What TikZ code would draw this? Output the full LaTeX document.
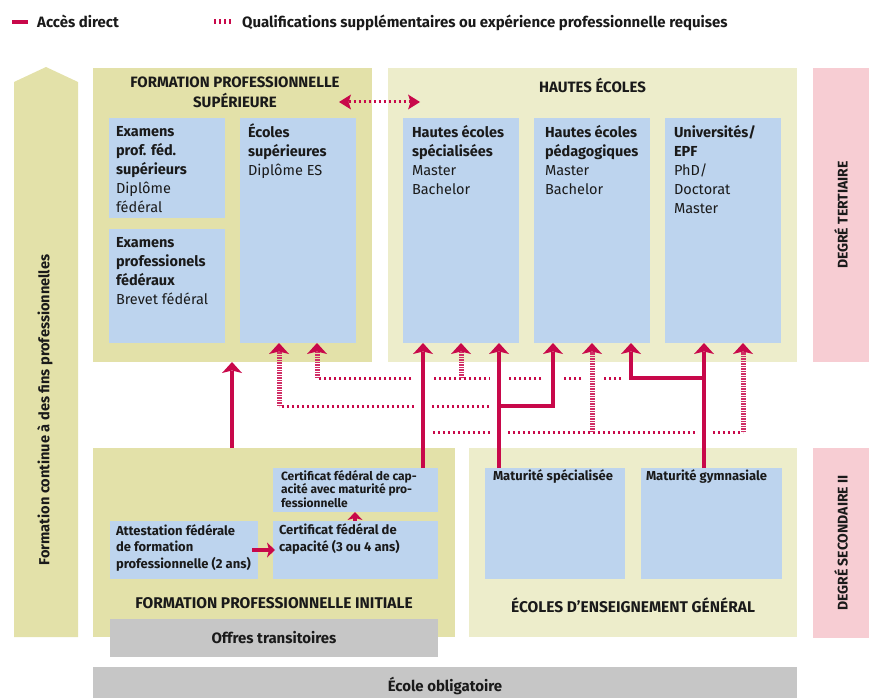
\documentclass[tikz,border=0pt]{standalone}
\usepackage{fontspec}
\setmainfont{Fira Sans}
\usetikzlibrary{arrows.meta}
\definecolor{rouge}{HTML}{C8084A}
\definecolor{khakiA}{HTML}{E3E1A9}
\definecolor{khakiB}{HTML}{EDEDCB}
\definecolor{bleu}{HTML}{BDD4EE}
\definecolor{rose}{HTML}{F7CDD3}
\definecolor{gris}{HTML}{C6C6C6}
\definecolor{texte}{HTML}{1A1A1A}
\newcommand\myTop{\rule{0pt}{15pt}}
\begin{document}
\begin{tikzpicture}[x=1pt,y=-1pt,
  zone/.style={fill=#1, draw=none, rectangle, inner sep=0pt, outer sep=0pt, anchor=north west},
  body/.style={inner sep=0pt, outer sep=0pt, anchor=north west, align=left, text=texte},
  ttl/.style={inner sep=0pt, outer sep=0pt, text=texte, align=center, font=\bfseries\fontsize{15}{20}\selectfont},
  boxfont/.style={font=\fontsize{14.5}{19}\selectfont},
  bigtip/.style={-{Stealth[length=11pt,width=20pt,inset=2.5pt,line width=0pt,color=rouge]}},
  acc/.style={draw=rouge, line width=4.5pt, bigtip},
  accsmall/.style={draw=rouge, line width=4pt, -{Stealth[length=8pt,width=15pt,inset=2pt,line width=0pt]}},
  qual/.style={draw=rouge, line width=3pt, dash pattern=on 2pt off 3pt},
  qualv/.style={draw=rouge!85, line width=5pt, dash pattern=on 1.2pt off 1.3pt, bigtip},
  halo/.style={draw=white, line width=18pt},
]
\useasboundingbox (0,0) rectangle (869,698);

% ---------- legend ----------
\draw[rouge, line width=4.5pt] (12,22) -- (28,22);
\node[anchor=base west, inner sep=0pt, text=texte, font=\bfseries\fontsize{15}{18}\selectfont] (legA) at (37,28) {Accès direct};
\draw[qual, line width=5pt] (214,22) -- (233,22);
\node[anchor=base west, inner sep=0pt, text=texte, font=\bfseries\fontsize{15}{18}\selectfont] (legB) at (242,28) {Qualifications supplémentaires ou expérience professionnelle requises};

% ---------- left column ----------
\fill[khakiA] (14,637) -- (14,82) -- (46,67) -- (78,82) -- (78,637) -- cycle;
\node[rotate=90, inner sep=0pt, text=texte, font=\bfseries\fontsize{14.6}{17}\selectfont] (cont) at (45,410) {Formation continue à des fins professionnelles};

% ---------- big zones ----------
\node[zone=khakiA, minimum width=279, minimum height=294] (fps) at (93,68) {};
\node[zone=khakiB, minimum width=409, minimum height=294] (he) at (388,68) {};
\node[zone=khakiA, minimum width=362, minimum height=189] (fpi) at (93,448) {};
\node[zone=khakiB, minimum width=328, minimum height=189] (eeg) at (469,448) {};
\node[zone=rose, minimum width=56, minimum height=294] (tert) at (813,68) {};
\node[zone=rose, minimum width=56, minimum height=190] (sec) at (813,448) {};

\node[rotate=90, inner sep=0pt, text=texte, font=\bfseries\fontsize{14}{17}\selectfont] (tertT) at (tert.center) {DEGRÉ TERTIAIRE};
\node[rotate=90, inner sep=0pt, text=texte, font=\bfseries\fontsize{14}{17}\selectfont] (secT) at (sec.center) {DEGRÉ SECONDAIRE II};

% ---------- titles ----------
\node[ttl, anchor=north] (fpsT) at (235,72) {\myTop FORMATION PROFESSIONNELLE\\SUPÉRIEURE};
\node[ttl, anchor=base] (heT) at (592.5,93) {HAUTES ÉCOLES};
\node[ttl, anchor=base, font=\bfseries\fontsize{15.5}{20}\selectfont] (fpiT) at (274,608) {FORMATION PROFESSIONNELLE INITIALE};
\node[ttl, anchor=base, font=\bfseries\fontsize{15.5}{20}\selectfont] (eegT) at (633,612) {ÉCOLES D’ENSEIGNEMENT GÉNÉRAL};

% ---------- blue boxes (top) ----------
\node[zone=bleu, minimum width=116, minimum height=100] (efs) at (109,118) {};
\node[zone=bleu, minimum width=116, minimum height=114] (epf) at (109,229) {};
\node[zone=bleu, minimum width=116, minimum height=225] (es) at (240,118) {};
\node[zone=bleu, minimum width=116, minimum height=225] (hes) at (403,118) {};
\node[zone=bleu, minimum width=116, minimum height=225] (hep) at (534,118) {};
\node[zone=bleu, minimum width=116, minimum height=225] (uni) at (665,118) {};

\node[body, boxfont] (efsT) at ([xshift=7pt,yshift=-3.5pt]efs.north west) {\myTop\textbf{Examens}\\\textbf{prof. féd.}\\\textbf{supérieurs}\\Diplôme\\fédéral};
\node[body, boxfont] (epfT) at ([xshift=7pt,yshift=-3pt]epf.north west) {\myTop\textbf{Examens}\\\textbf{professionels}\\\textbf{fédéraux}\\Brevet fédéral};
\node[body, boxfont] (esT) at ([xshift=8pt,yshift=-4pt]es.north west) {\myTop\textbf{Écoles}\\\textbf{supérieures}\\Diplôme ES};
\node[body, boxfont] (hesT) at ([xshift=9pt,yshift=-4pt]hes.north west) {\myTop\textbf{Hautes écoles}\\\textbf{spécialisées}\\Master\\Bachelor};
\node[body, boxfont] (hepT) at ([xshift=11pt,yshift=-4pt]hep.north west) {\myTop\textbf{Hautes écoles}\\\textbf{pédagogiques}\\Master\\Bachelor};
\node[body, boxfont] (uniT) at ([xshift=9pt,yshift=-4pt]uni.north west) {\myTop\textbf{Universités/}\\\textbf{EPF}\\PhD/\\Doctorat\\Master};

% ---------- blue boxes (bottom) ----------
\node[zone=bleu, minimum width=165, minimum height=44] (cfcm) at (273,468) {};
\node[zone=bleu, minimum width=165, minimum height=58] (cfc) at (273,521) {};
\node[zone=bleu, minimum width=148, minimum height=58] (afp) at (110,521) {};
\node[zone=bleu, minimum width=140, minimum height=111] (mspec) at (485,468) {};
\node[zone=bleu, minimum width=141, minimum height=111] (mgym) at (641,468) {};

\node[body, font=\bfseries\fontsize{12}{13.5}\selectfont] (cfcmT) at ([xshift=8pt,yshift=3pt]cfcm.north west) {\myTop Certificat fédéral de cap-\\acité avec maturité pro-\\fessionnelle};
\node[body, font=\bfseries\fontsize{13}{17}\selectfont] (cfcT) at ([xshift=6pt,yshift=2pt]cfc.north west) {\myTop Certificat fédéral de\\capacité (3 ou 4 ans)};
\node[body, font=\bfseries\fontsize{13}{16.5}\selectfont] (afpT) at ([xshift=6pt,yshift=1pt]afp.north west) {\myTop Attestation fédérale\\de formation\\professionnelle (2 ans)};
\node[body, font=\bfseries\fontsize{13}{16}\selectfont] (mspecT) at ([xshift=8pt,yshift=3pt]mspec.north west) {\myTop Maturité spécialisée};
\node[body, font=\bfseries\fontsize{13}{16}\selectfont] (mgymT) at ([xshift=5pt,yshift=3pt]mgym.north west) {\myTop Maturité gymnasiale};

% ---------- grey bars ----------
\node[zone=gris, minimum width=328, minimum height=38] (offres) at (110,619) {};
\node[ttl, anchor=base] (offresT) at (274,643) {Offres transitoires};
\node[zone=gris, minimum width=704, minimum height=31] (oblig) at (93,667) {};
\node[ttl, anchor=base] (obligT) at (445,691) {École obligatoire};

% ---------- connector guide coordinates ----------
\coordinate (cA) at (232,0);
\coordinate (cB) at (279,0);
\coordinate (cC) at (317,0);
\coordinate (cD) at (423,0);
\coordinate (cE) at (461,0);
\coordinate (cF) at (499,0);
\coordinate (cG) at (553,0);
\coordinate (cH) at (592,0);
\coordinate (cI) at (631,0);
\coordinate (cJ) at (704,0);
\coordinate (cK) at (743,0);
\coordinate (cL) at (355,0);
\coordinate (rA) at (0,378);
\coordinate (rB) at (0,406);
\coordinate (rC) at (0,432);
\coordinate (dl) at (339,102);
\coordinate (dr) at (420,102);

% ---------- dotted horizontals ----------
\draw[qual] (cI |- rA) -- (cC |- rA);
\draw[qual] (cF |- rB) -- (cB |- rB);
\draw[qual] (cD |- rC) -- (cK |- rC);

% ---------- gaps where lines cross ----------
\begin{scope}
  \clip (0,364) rectangle (869,447);
  \draw[halo] (cD |- cfcm.north) -- (cD |- hes.south);
  \draw[halo] (cF |- mspec.north) -- (cF |- hes.south);
  \draw[halo] (cF |- rB) -| (cG |- hep.south);
  \draw[halo] (cJ |- mgym.north) -- (cJ |- uni.south);
  \draw[halo] (cJ |- rA) -| (cI |- hep.south);
  \draw[halo] (cH |- rC) ++(0,-9) -- (cH |- hep.south);
\end{scope}

% ---------- dotted verticals ----------
\draw[qualv] (cC |- rA) -- (cC |- es.south);
\draw[qualv] (cB |- rB) -- (cB |- es.south);
\draw[qualv] (cE |- rA) -- (cE |- hes.south);
\draw[qualv] (cH |- rC) -- (cH |- hep.south);
\draw[qualv] (cK |- rC) -- (cK |- uni.south);

% double dotted arrow between the top zones
\draw[qual, {Stealth[length=12pt,width=15pt,inset=2.5pt,line width=0pt]}-{Stealth[length=12pt,width=15pt,inset=2.5pt,line width=0pt]}] (dl) -- (dr);

% ---------- direct access ----------
\draw[acc] (cA |- fpi.north) -- (cA |- fps.south);
\draw[acc] (cD |- cfcm.north) -- (cD |- hes.south);
\draw[acc] (cF |- mspec.north) -- (cF |- hes.south);
\draw[acc] (cF |- rB) -| (cG |- hep.south);
\draw[acc] (cJ |- mgym.north) -- (cJ |- uni.south);
\draw[acc] (cJ |- rA) -| (cI |- hep.south);
\draw[accsmall] ([xshift=-6pt]afp.east) -- ([xshift=2pt]cfc.west);
\draw[accsmall] (cL |- cfc.north) -- (cL |- cfcm.south);
\end{tikzpicture}
\end{document}
